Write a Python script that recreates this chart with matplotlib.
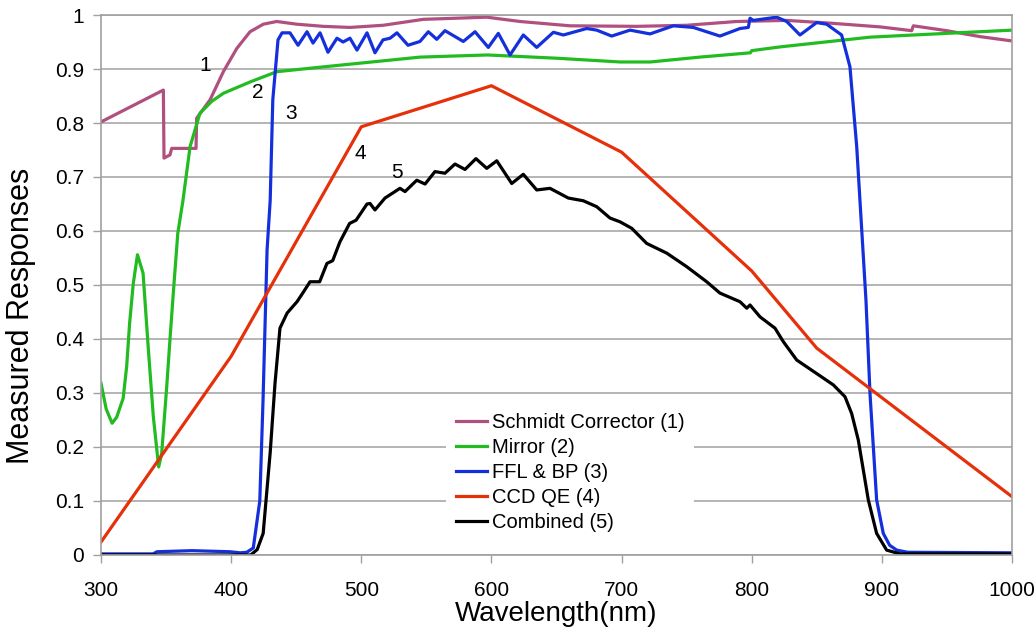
import numpy as np
import matplotlib.pyplot as plt

plt.rcParams['font.family'] = ['Liberation Sans', 'DejaVu Sans']

# Schmidt corrector (1)
sc_wl = [300, 347.9, 348.4, 353, 354.3, 373, 373.5, 383.8, 394, 404.3, 414.5, 424.7, 435,
         450.4, 470.8, 491.3, 516.9, 547.7, 596.4, 622, 660.4, 711.6, 750, 788.5, 826.9,
         860, 898.6, 922.9, 924.2, 949.8, 975.4, 1000]
sc_val = [0.802, 0.861, 0.735, 0.741, 0.753, 0.753, 0.809, 0.843, 0.895, 0.938, 0.969, 0.983, 0.988,
          0.983, 0.979, 0.977, 0.981, 0.992, 0.996, 0.988, 0.980, 0.979, 0.981, 0.988, 0.990,
          0.985, 0.978, 0.971, 0.980, 0.971, 0.960, 0.952]

# Mirror (2)
mi_wl = [300, 304, 308.5, 312, 317, 319.7, 322, 324.8, 328, 332.3, 336.4, 340.2, 344.3, 346.6,
         350.5, 353, 356, 359, 363, 368.4, 376, 385, 394, 414.5, 435, 471, 545, 597, 650, 699,
         722, 760, 799, 800, 822, 891, 1000]
mi_val = [0.318, 0.27, 0.244, 0.255, 0.290, 0.349, 0.43, 0.503, 0.556, 0.522, 0.38, 0.256, 0.163, 0.188,
          0.312, 0.40, 0.50, 0.596, 0.657, 0.756, 0.818, 0.840, 0.855, 0.876, 0.895, 0.904, 0.922, 0.926,
          0.920, 0.913, 0.913, 0.922, 0.930, 0.934, 0.941, 0.959, 0.972]

# FFL & BP (3)
bp_wl = [300, 340, 343, 370, 399, 407, 412, 417, 422, 424.5, 427.6, 430, 432, 436, 439.1, 445.2,
         451.4, 458.3, 462.9, 468.3, 474.4, 481.3, 486, 491.3, 496.7, 504.4, 510.5, 516.7, 522.1,
         527.4, 535.9, 545.1, 551.5, 558, 564.3, 578.4, 587.4, 597.6, 605.3, 614.3, 624.5, 634.8,
         647.6, 655.3, 673.2, 680.9, 692.4, 706.5, 721.9, 739.8, 755.1, 775.6, 791, 797.4, 798.7,
         801.2, 819.2, 826.9, 837.1, 849.9, 857.6, 869.1, 875.5, 880.7, 887.8, 890.9, 896, 901.1,
         906, 911.4, 920, 1000]
bp_val = [0.002, 0.002, 0.006, 0.008, 0.006, 0.004, 0.005, 0.013, 0.10, 0.287, 0.565, 0.657, 0.843,
          0.954, 0.967, 0.967, 0.944, 0.969, 0.948, 0.967, 0.931, 0.957, 0.950, 0.957, 0.935, 0.967,
          0.930, 0.954, 0.957, 0.967, 0.944, 0.951, 0.969, 0.955, 0.971, 0.951, 0.969, 0.940, 0.966,
          0.926, 0.963, 0.940, 0.968, 0.963, 0.975, 0.972, 0.961, 0.972, 0.965, 0.980, 0.977, 0.961,
          0.975, 0.977, 0.994, 0.990, 0.996, 0.988, 0.963, 0.986, 0.983, 0.963, 0.904, 0.756, 0.472,
          0.299, 0.102, 0.040, 0.018, 0.009, 0.005, 0.004]

# CCD QE (4)
qe_wl = [300, 400, 500, 600, 700, 800, 850, 1000]
qe_val = [0.024, 0.368, 0.793, 0.869, 0.746, 0.526, 0.383, 0.108]

# Combined (5)
cb_wl = [300, 415, 420, 424.6, 430, 433.7, 437.5, 443, 450.6, 455, 460.6, 468, 473.6, 478,
         483.6, 491, 496, 504.4, 506.7, 510.5, 518.2, 529.7, 533.6, 542.6, 549, 556.6, 564.3,
         572, 579.7, 588.1, 596.4, 604.1, 610.4, 615.6, 624.5, 634.8, 645, 659.1, 670.6, 680.9,
         691.1, 698.8, 707.8, 719.3, 734.7, 750, 765.4, 775.6, 791, 796.2, 798.7, 806.4, 817.9,
         824.3, 834.6, 849.9, 862.7, 871.7, 876.8, 881.9, 889.6, 896, 903.7, 914, 1000]
cb_val = [0.0, 0.0, 0.01, 0.04, 0.19, 0.318, 0.42, 0.448, 0.469, 0.485, 0.506, 0.506, 0.54, 0.545,
          0.58, 0.614, 0.62, 0.65, 0.651, 0.639, 0.661, 0.679, 0.673, 0.694, 0.687, 0.710, 0.707,
          0.724, 0.714, 0.734, 0.716, 0.730, 0.707, 0.688, 0.705, 0.676, 0.679, 0.661, 0.656, 0.645,
          0.624, 0.617, 0.605, 0.577, 0.559, 0.534, 0.506, 0.485, 0.469, 0.457, 0.463, 0.441, 0.420,
          0.395, 0.361, 0.336, 0.315, 0.293, 0.262, 0.213, 0.102, 0.040, 0.009, 0.002, 0.002]

series = [
    (sc_wl, sc_val, '#b0507e', 'Schmidt Corrector (1)'),
    (mi_wl, mi_val, '#22bb22', 'Mirror (2)'),
    (bp_wl, bp_val, '#1430dc', 'FFL & BP (3)'),
    (qe_wl, qe_val, '#e6300a', 'CCD QE (4)'),
    (cb_wl, cb_val, 'black', 'Combined (5)'),
]
tags = [('1', 380, 0.907), ('2', 420.6, 0.857), ('3', 446, 0.818), ('4', 499, 0.744), ('5', 527.5, 0.709)]

fig = plt.figure(figsize=(10.34, 6.36), dpi=100)
ax = fig.add_axes([0.0977, 0.1274, 0.881, 0.849])

for wl, val, col, lab in series:
    ax.plot(wl, val, color=col, lw=2.3, label=lab)

for t, x, y in tags:
    ax.text(x, y, t, fontsize=15, ha='center', va='center')

ax.set_xlim(300, 1000)
ax.set_ylim(0, 1)
ax.set_xticks(np.arange(300, 1001, 100))
ax.set_yticks(np.arange(0, 1.01, 0.1))
ax.set_yticklabels(['0', '0.1', '0.2', '0.3', '0.4', '0.5', '0.6', '0.7', '0.8', '0.9', '1'])
ax.yaxis.grid(True, color='#a8a8a8', lw=1.2)
ax.set_axisbelow(True)
for s in ['left', 'right', 'bottom', 'top']:
    ax.spines[s].set_color('#a0a0a0')
    ax.spines[s].set_linewidth(1.2)
ax.tick_params(axis='both', colors='#a0a0a0', labelcolor='black', labelsize=15, length=6, width=1)
ax.tick_params(axis='x', pad=13)
ax.tick_params(axis='y', pad=6)
ax.set_xlabel('Wavelength(nm)', fontsize=20)
ax.set_ylabel('Measured Responses', fontsize=22)
ax.xaxis.set_label_coords(0.5, -0.086)
ax.yaxis.set_label_coords(-0.071, 0.443)

leg = ax.legend(loc='upper left', bbox_to_anchor=(0.368, 0.3), fontsize=14.5, frameon=True,
                fancybox=False, handlelength=1.5, handletextpad=0.25, labelspacing=0.3,
                borderpad=0.5)
leg.get_frame().set_edgecolor('none')
leg.get_frame().set_facecolor('white')
leg.get_frame().set_alpha(1)

plt.savefig('out.png', dpi=100)
